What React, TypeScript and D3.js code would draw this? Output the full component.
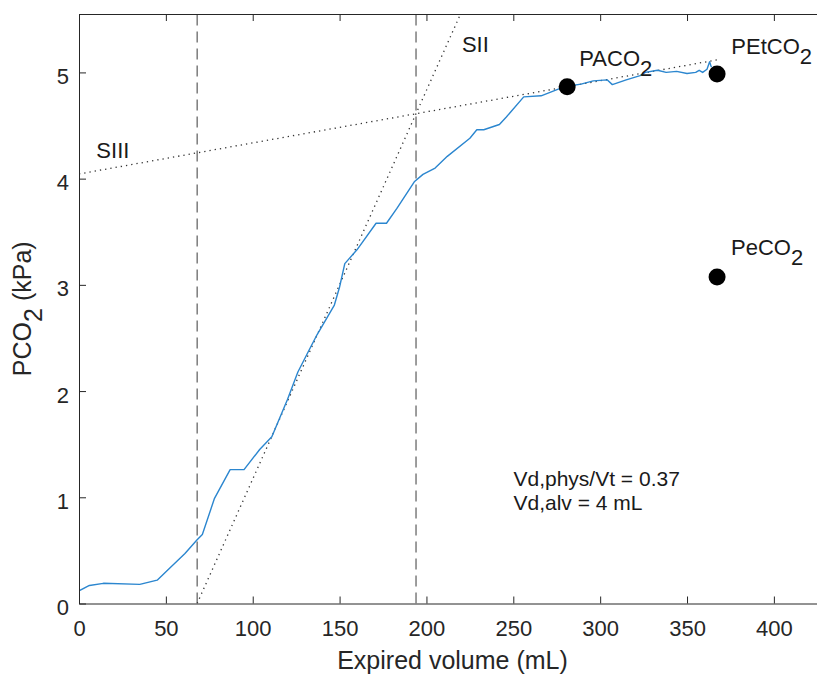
import * as d3 from 'd3';
import {useEffect, useRef} from 'react';

const width = 817;
const height = 675;
const font = '"Liberation Sans", Arial, sans-serif';

// capnogram trace: expired volume (mL) vs PCO2 (kPa)
const volume = [0, 6, 14, 35, 45, 52, 61, 68, 71, 78, 87, 95, 104, 111, 120, 126, 131, 137, 147, 150, 153, 160, 171, 177, 183, 193, 198, 205, 212, 225, 229, 233, 242, 246, 256, 266, 277, 281, 289, 296, 304, 307, 315, 323, 326, 333, 338, 344, 350, 355, 357, 359, 361.5, 363, 364];
const pco2 = [0.12, 0.17, 0.19, 0.18, 0.22, 0.33, 0.47, 0.6, 0.65, 0.99, 1.26, 1.26, 1.45, 1.57, 1.92, 2.18, 2.34, 2.53, 2.81, 2.98, 3.2, 3.33, 3.58, 3.58, 3.72, 3.97, 4.04, 4.1, 4.21, 4.38, 4.46, 4.46, 4.51, 4.58, 4.77, 4.78, 4.85, 4.87, 4.89, 4.92, 4.93, 4.885, 4.93, 4.97, 5.0, 5.02, 5.0, 5.01, 4.99, 5.0, 5.02, 5.0, 5.03, 5.1, 5.05];

// phase boundaries (dashed) and fitted slopes (dotted)
const phaseBounds = [68, 194];
const slopeSII = [[68, 0], [221, 5.6]];
const slopeSIII = [[0, 4.044], [367.3, 5.118]];

// marked points and their labels
const pointNames = ['PACO', 'PEtCO', 'PeCO'];
const pointX = [281, 367.3, 367.3];
const pointY = [4.866, 4.986, 3.073];
const labelX = [288, 375.5, 375.3];
const labelY = [5.064, 5.174, 3.283];

const xTicks = [0, 50, 100, 150, 200, 250, 300, 350, 400];
const yTicks = [0, 1, 2, 3, 4, 5];
const resultLines = ['Vd,phys/Vt = 0.37', 'Vd,alv = 4 mL'];

function App() {
  const refContainer = useRef<HTMLDivElement>(null);

  useEffect(() => {
    const xScale = d3.scaleLinear().domain([0, 430]).range([79, 826]);
    const yScale = d3.scaleLinear().domain([0, 5.55]).range([603.5, 14]);

    const svg = d3
      .select(refContainer.current)
      .append('svg')
      .attr('width', width)
      .attr('height', height)
      .style('position', 'absolute')
      .style('left', '0px')
      .style('top', '0px')
      .style('background', '#fff')
      .style('font-family', font);

    svg
      .append('clipPath')
      .attr('id', 'plotclip')
      .append('rect')
      .attr('x', xScale(0))
      .attr('y', yScale(5.55))
      .attr('width', xScale(430) - xScale(0))
      .attr('height', yScale(0) - yScale(5.55));

    const plot = svg.append('g').attr('clip-path', 'url(#plotclip)');

    // dashed phase limits
    plot
      .selectAll('line.bound')
      .data(phaseBounds)
      .enter()
      .append('line')
      .attr('class', 'bound')
      .attr('x1', d => xScale(d))
      .attr('x2', d => xScale(d))
      .attr('y1', yScale(0))
      .attr('y2', yScale(5.55))
      .attr('stroke', '#3a3a3a')
      .attr('stroke-width', 1)
      .attr('stroke-dasharray', '11,6');

    const slope = d3
      .line<number[]>()
      .x(d => xScale(d[0]))
      .y(d => yScale(d[1]));

    [slopeSII, slopeSIII].forEach(s => {
      plot
        .append('path')
        .attr('d', slope(s))
        .attr('fill', 'none')
        .attr('stroke', '#333')
        .attr('stroke-width', 1.3)
        .attr('stroke-dasharray', '1.3,4');
    });

    const trace = d3
      .line<number>()
      .x((d, i) => xScale(volume[i]))
      .y(d => yScale(d));

    plot
      .append('path')
      .datum(pco2)
      .attr('fill', 'none')
      .attr('stroke', '#2b86cf')
      .attr('stroke-width', 1.4)
      .attr('stroke-linejoin', 'round')
      .attr('d', trace);

    // markers
    plot
      .selectAll('circle')
      .data(pointX)
      .enter()
      .append('circle')
      .attr('cx', d => xScale(d))
      .attr('cy', (d, i) => yScale(pointY[i]))
      .attr('r', 8.5)
      .attr('fill', '#000');

    // axes
    const styleAxis = g => {
      g.attr('font-family', font).attr('font-size', 22).attr('color', '#262626');
      g.select('.domain').attr('stroke', '#262626').attr('stroke-width', 1);
      g.selectAll('.tick line').attr('stroke', '#262626').attr('stroke-width', 1);
      g.selectAll('text').attr('fill', '#262626');
    };

    svg
      .append('g')
      .attr('transform', `translate(0, ${yScale(0)})`)
      .call(d3.axisBottom(xScale).tickValues(xTicks).tickFormat(d3.format('d')).tickSizeInner(-7).tickSizeOuter(0).tickPadding(17))
      .call(styleAxis);

    svg
      .append('g')
      .attr('transform', `translate(0, ${yScale(5.55)})`)
      .call(d3.axisTop(xScale).tickValues(xTicks).tickSizeInner(-7).tickSizeOuter(0).tickFormat(() => ''))
      .call(styleAxis);

    const yAxisG = svg
      .append('g')
      .attr('transform', `translate(${xScale(0)}, 0)`)
      .call(d3.axisLeft(yScale).tickValues(yTicks).tickFormat(d3.format('d')).tickSizeInner(-7).tickSizeOuter(0).tickPadding(10))
      .call(styleAxis);
    yAxisG.selectAll('text').attr('dy', '0.5em');

    // axis labels
    svg
      .append('text')
      .attr('x', (xScale(0) + xScale(430)) / 2)
      .attr('y', 669)
      .attr('text-anchor', 'middle')
      .attr('font-size', 25)
      .attr('fill', '#262626')
      .text('Expired volume (mL)');

    const ylab = svg
      .append('text')
      .attr('transform', `translate(31, ${(yScale(0) + yScale(5.55)) / 2}) rotate(-90)`)
      .attr('text-anchor', 'middle')
      .attr('font-size', 25)
      .attr('fill', '#262626');
    ylab.append('tspan').text('PCO');
    ylab.append('tspan').attr('dy', 11).text('2');
    ylab.append('tspan').attr('dy', -11).text(' (kPa)');

    // point labels
    pointNames.forEach((name, i) => {
      const t = svg
        .append('text')
        .attr('x', xScale(labelX[i]))
        .attr('y', yScale(labelY[i]))
        .attr('font-size', 22)
        .attr('fill', '#1a1a1a');
      t.append('tspan').text(name);
      t.append('tspan').attr('dy', 10).text('2');
    });

    svg
      .append('text')
      .attr('x', xScale(10))
      .attr('y', yScale(4.19))
      .attr('font-size', 22)
      .attr('fill', '#1a1a1a')
      .text('SIII');

    svg
      .append('text')
      .attr('x', xScale(220.4))
      .attr('y', yScale(5.19))
      .attr('font-size', 22)
      .attr('fill', '#1a1a1a')
      .text('SII');

    svg
      .selectAll('text.result')
      .data(resultLines)
      .enter()
      .append('text')
      .attr('class', 'result')
      .attr('x', xScale(250.1))
      .attr('y', (d, i) => yScale(1.11 - i * 0.226))
      .attr('font-size', 21)
      .attr('fill', '#1a1a1a')
      .text(d => d);

    return () => svg.remove();
  }, []);

  return <div ref={refContainer}></div>;
}

export default App;
